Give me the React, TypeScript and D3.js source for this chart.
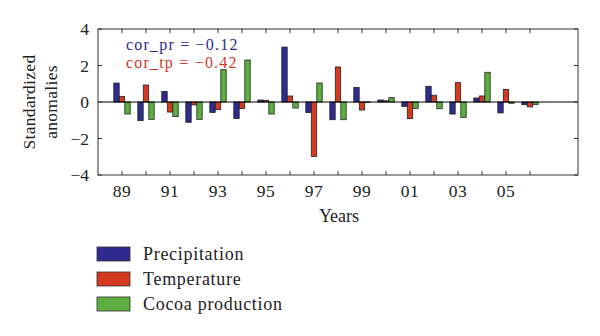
import React from "react";
import * as d3 from "d3";

const years = [1989, 1990, 1991, 1992, 1993, 1994, 1995, 1996, 1997, 1998, 1999, 2000, 2001, 2002, 2003, 2004, 2005, 2006];
const precipitation = [1.04, -1.02, 0.58, -1.11, -0.57, -0.9, 0.11, 3.01, -0.58, -0.97, 0.8, 0.11, -0.24, 0.86, -0.66, 0.22, -0.6, -0.15];
const temperature = [0.31, 0.93, -0.55, -0.16, -0.42, -0.35, 0.09, 0.33, -2.98, 1.92, -0.44, 0.07, -0.91, 0.37, 1.06, 0.33, 0.69, -0.27];
const cocoa = [-0.66, -0.95, -0.8, -0.95, 1.77, 2.3, -0.66, -0.33, 1.04, -0.97, -0.02, 0.24, -0.35, -0.37, -0.84, 1.63, -0.07, -0.13];
const seriesNames = ["Precipitation", "Temperature", "Cocoa production"];
const seriesColors = ["#2e2b8f", "#d33a1f", "#5bae3f"];
const yTicks = [-4, -2, 0, 2, 4];
const xLabelYears = [1989, 1991, 1993, 1995, 1997, 1999, 2001, 2003, 2005];
const corTexts = ["cor_pr = \u22120.12", "cor_tp = \u22120.42"];

const FONT = "'Liberation Serif', 'DejaVu Serif', serif";

export default function App() {
  const left = 98, right = 578, top = 29, bottom = 175;
  const x = d3.scaleLinear().domain([1988, 2008]).range([left, right]);
  const y = d3.scaleLinear().domain([-4, 4]).range([bottom, top]);
  const inner = d3.scaleBand<number>().domain([0, 1, 2]).range([-8.2, 8.2]).paddingInner(0.02);
  const data = [precipitation, temperature, cocoa];
  const tickLen = 4;
  const fmt = (v: number) => (v < 0 ? "\u2212" + Math.abs(v) : String(v));
  const txt = "#222";

  return (
    <svg width={600} height={336} style={{ position: "absolute", left: 0, top: 0, background: "#fff" }} fontFamily={FONT}>
      {data.map((vals, si) =>
        vals.map((v, i) => {
          const cx = x(years[i]) + (inner(si) as number);
          const y0 = y(0), y1 = y(v);
          return (
            <rect key={`${si}-${i}`} x={cx} y={Math.min(y0, y1)} width={inner.bandwidth()} height={Math.abs(y1 - y0)}
              fill={seriesColors[si]} stroke="#222" strokeWidth={0.8} />
          );
        })
      )}
      <line x1={left} x2={right} y1={y(0)} y2={y(0)} stroke="#000" strokeWidth={1} />
      <rect x={left} y={top} width={right - left} height={bottom - top} fill="none" stroke="#333" strokeWidth={1} />
      {years.map((yr) => (
        <g key={yr}>
          <line x1={x(yr)} x2={x(yr)} y1={bottom} y2={bottom - tickLen} stroke="#333" />
          <line x1={x(yr)} x2={x(yr)} y1={top} y2={top + tickLen} stroke="#333" />
        </g>
      ))}
      {xLabelYears.map((yr) => (
        <text key={yr} x={x(yr)} y={197} textAnchor="middle" fontSize={17.5} letterSpacing={0.5} fill={txt}>
          {String(yr % 100).padStart(2, "0")}
        </text>
      ))}
      {yTicks.map((t) => (
        <g key={t}>
          <line x1={left} x2={left + tickLen} y1={y(t)} y2={y(t)} stroke="#333" />
          <line x1={right} x2={right - tickLen} y1={y(t)} y2={y(t)} stroke="#333" />
          <text x={89} y={y(t) + 6} textAnchor="end" fontSize={17.5} fill={txt}>{fmt(t)}</text>
        </g>
      ))}
      <text x={339} y={222} textAnchor="middle" fontSize={18} fill={txt}>Years</text>
      <text transform={`translate(35, ${y(0)}) rotate(-90)`} textAnchor="middle" fontSize={17.5} letterSpacing={0.3} fill={txt}>Standardized</text>
      <text transform={`translate(57, ${y(0)}) rotate(-90)`} textAnchor="middle" fontSize={17.5} letterSpacing={0.3} fill={txt}>anomalies</text>
      <text x={126} y={50} fontSize={16} letterSpacing={1.2} fill={seriesColors[0]}>{corTexts[0]}</text>
      <text x={126} y={68} fontSize={16} letterSpacing={1.2} fill={seriesColors[1]}>{corTexts[1]}</text>
      {seriesNames.map((name, i) => (
        <g key={name}>
          <rect x={97} y={247 + i * 25} width={33} height={14} fill={seriesColors[i]} stroke="#333" strokeWidth={0.8} />
          <text x={143} y={260 + i * 25} fontSize={18} letterSpacing={0.7} fill={txt}>{name}</text>
        </g>
      ))}
    </svg>
  );
}
